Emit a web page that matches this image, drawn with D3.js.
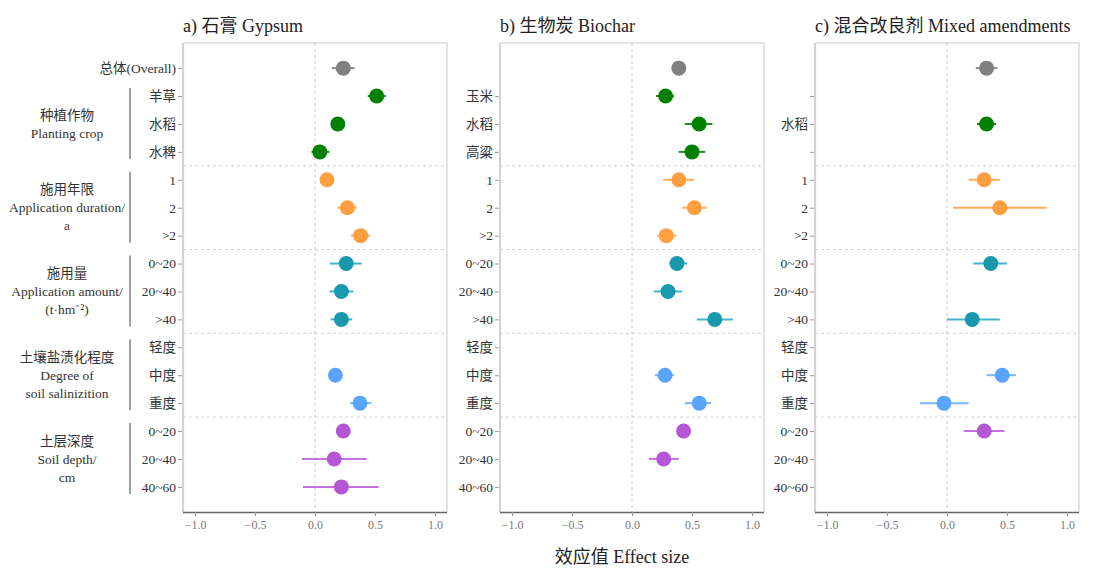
<!DOCTYPE html>
<html>
<head>
<meta charset="utf-8">
<script src="https://cdn.jsdelivr.net/npm/d3@7"></script>
<style>
  html, body { margin: 0; padding: 0; background: #fff; }
  svg { display: block; }
  text { font-family: "Liberation Serif", "Times New Roman", "Noto Sans CJK SC", serif; }
</style>
</head>
<body>
<svg id="chart" width="1096" height="568"></svg>
<script>
// Row order (top to bottom) shared by all three panels
const rowGroup = [0, 1, 1, 1, 2, 2, 2, 3, 3, 3, 4, 4, 4, 5, 5, 5];

// Y-axis tick labels per panel
const labelsA = ["总体(Overall)", "羊草", "水稻", "水稗", "1", "2", ">2", "0~20", "20~40", ">40", "轻度", "中度", "重度", "0~20", "20~40", "40~60"];
const labelsB = ["", "玉米", "水稻", "高粱", "1", "2", ">2", "0~20", "20~40", ">40", "轻度", "中度", "重度", "0~20", "20~40", "40~60"];
const labelsC = ["", "", "水稻", "", "1", "2", ">2", "0~20", "20~40", ">40", "轻度", "中度", "重度", "0~20", "20~40", "40~60"];

// Effect sizes with 95% CI (null = no data)
const meanA = [0.236, 0.514, 0.19, 0.04, 0.10, 0.27, 0.38, 0.26, 0.22, 0.22, null, 0.17, 0.375, 0.236, 0.16, 0.22];
const lowA  = [0.14, 0.44, 0.16, -0.03, 0.07, 0.19, 0.30, 0.125, 0.12, 0.13, null, 0.14, 0.29, 0.20, -0.11, -0.10];
const highA = [0.33, 0.59, 0.22, 0.12, 0.13, 0.35, 0.46, 0.39, 0.32, 0.31, null, 0.20, 0.47, 0.27, 0.43, 0.53];

const meanB = [0.39, 0.28, 0.56, 0.50, 0.39, 0.52, 0.286, 0.375, 0.30, 0.69, null, 0.275, 0.56, 0.43, 0.264, null];
const lowB  = [0.36, 0.20, 0.44, 0.39, 0.26, 0.42, 0.21, 0.31, 0.18, 0.54, null, 0.19, 0.44, 0.40, 0.14, null];
const highB = [0.42, 0.35, 0.67, 0.61, 0.52, 0.62, 0.37, 0.46, 0.42, 0.84, null, 0.35, 0.66, 0.46, 0.39, null];

const meanC = [0.33, null, 0.33, null, 0.31, 0.44, null, 0.365, null, 0.21, null, 0.46, -0.025, 0.31, null, null];
const lowC  = [0.24, null, 0.25, null, 0.18, 0.05, null, 0.22, null, 0.00, null, 0.33, -0.225, 0.14, null, null];
const highC = [0.42, null, 0.41, null, 0.44, 0.83, null, 0.50, null, 0.44, null, 0.575, 0.18, 0.48, null, null];

const xTicks = [-1.0, -0.5, 0.0, 0.5, 1.0];
const groupColors = ["#808080", "#008000", "#ff9f40", "#1a98ad", "#58a4ff", "#b655d6"];
const barColors   = ["#8a8a8a", "#1a8a1a", "#ffab5a", "#40b4cc", "#78b6ff", "#c373e0"];

const titles = ["a) 石膏 Gypsum", "b) 生物炭 Biochar", "c) 混合改良剂 Mixed amendments"];

// Group annotations on the left of panel a
const groupNotes = [
  { rows: [1, 3],   lines: ["种植作物", "Planting crop"] },
  { rows: [4, 6],   lines: ["施用年限", "Application duration/", "a"] },
  { rows: [7, 9],   lines: ["施用量", "Application amount/", "(t·hm⁻²)"] },
  { rows: [10, 12], lines: ["土壤盐渍化程度", "Degree of", "soil salinizition"] },
  { rows: [13, 15], lines: ["土层深度", "Soil depth/", "cm"] }
];

const panels = [
  { left: 183, labels: labelsA, mean: meanA, low: lowA, high: highA, tickRow0: true },
  { left: 500, labels: labelsB, mean: meanB, low: lowB, high: highB, tickRow0: false },
  { left: 815, labels: labelsC, mean: meanC, low: lowC, high: highC, tickRow0: false }
];

const svg = d3.select("#chart");
const plotTop = 43, plotBottom = 512, pw = 264;
const rows = d3.range(rowGroup.length);

const y = d3.scalePoint().domain(rows).range([plotTop, plotBottom]).padding(0.9);
const sepRows = [3, 6, 9, 12];

panels.forEach((p, pi) => {
  const x = d3.scaleLinear().domain([-1.1, 1.1]).range([p.left, p.left + pw]);
  const g = svg.append("g");

  // panel frame (top / right)
  g.append("path")
    .attr("d", `M${p.left},${plotTop}H${p.left + pw}V${plotBottom}`)
    .attr("fill", "none").attr("stroke", "#dcdcdc").attr("stroke-width", 1.5);

  // zero reference line
  g.append("line")
    .attr("x1", x(0)).attr("x2", x(0)).attr("y1", plotTop).attr("y2", plotBottom)
    .attr("stroke", "#c8c8c8").attr("stroke-width", 1).attr("stroke-dasharray", "3,3");

  // group separators
  g.selectAll("line.sep").data(sepRows).join("line")
    .attr("class", "sep")
    .attr("x1", p.left).attr("x2", p.left + pw)
    .attr("y1", d => (y(d) + y(d + 1)) / 2).attr("y2", d => (y(d) + y(d + 1)) / 2)
    .attr("stroke", "#cfcfcf").attr("stroke-width", 1).attr("stroke-dasharray", "3,3");

  // y axis
  const yAxis = d3.axisLeft(y)
    .tickValues(p.tickRow0 ? rows : rows.slice(1))
    .tickFormat(i => p.labels[i])
    .tickSize(5).tickPadding(2);
  const ya = g.append("g").attr("transform", `translate(${p.left},0)`).call(yAxis);
  ya.select(".domain").remove();
  ya.selectAll(".tick line").attr("stroke", "#9a9a9a");
  ya.selectAll(".tick text")
    .attr("fill", "#333").style("font-size", "13.5px")
    .style("font-family", "'Liberation Serif','Times New Roman','Noto Sans CJK SC',serif");
  g.append("line")
    .attr("x1", p.left).attr("x2", p.left).attr("y1", plotTop).attr("y2", plotBottom)
    .attr("stroke", "#d4d4d4").attr("stroke-width", 2.2);

  // x axis
  const xAxis = d3.axisBottom(x).tickValues(xTicks).tickFormat(d3.format(".1f")).tickSize(4).tickPadding(4);
  const xa = g.append("g").attr("transform", `translate(0,${plotBottom})`).call(xAxis);
  xa.select(".domain").attr("stroke", "#666").attr("stroke-width", 1.5)
    .attr("d", `M${p.left},0.5H${p.left + pw}`);
  xa.selectAll(".tick line").attr("stroke", "#999");
  xa.selectAll(".tick text")
    .attr("fill", "#777").style("font-size", "12px")
    .style("font-family", "'Liberation Serif','Times New Roman',serif");

  // error bars and points
  const pts = rows.filter(i => p.mean[i] !== null);
  g.selectAll("line.ci").data(pts).join("line")
    .attr("class", "ci")
    .attr("x1", i => x(p.low[i])).attr("x2", i => x(p.high[i]))
    .attr("y1", i => y(i)).attr("y2", i => y(i))
    .attr("stroke", i => barColors[rowGroup[i]]).attr("stroke-width", 2);
  g.selectAll("circle.pt").data(pts).join("circle")
    .attr("class", "pt")
    .attr("cx", i => x(p.mean[i])).attr("cy", i => y(i)).attr("r", 7.5)
    .attr("fill", i => groupColors[rowGroup[i]]);

  // panel title
  svg.append("text")
    .attr("x", p.left).attr("y", 32)
    .attr("fill", "#222").style("font-size", "18px")
    .text(titles[pi]);
});

// group notes with brackets (panel a)
const noteX = 67, barX = 130;
groupNotes.forEach(n => {
  const y0 = y(n.rows[0]) - 8, y1 = y(n.rows[1]) + 7;
  svg.append("line")
    .attr("x1", barX).attr("x2", barX).attr("y1", y0).attr("y2", y1)
    .attr("stroke", "#a0a0a0").attr("stroke-width", 2);
  const cy = (y(n.rows[0]) + y(n.rows[1])) / 2;
  const lh = 18;
  const startY = cy - (n.lines.length - 1) * lh / 2;
  const t = svg.append("text")
    .attr("text-anchor", "middle").attr("fill", "#333").style("font-size", "13.5px");
  n.lines.forEach((s, k) => {
    t.append("tspan").attr("x", noteX).attr("y", startY + k * lh).attr("dy", "0.35em").text(s);
  });
});

// shared x-axis title
svg.append("text")
  .attr("x", 622).attr("y", 563).attr("text-anchor", "middle")
  .attr("fill", "#222").style("font-size", "18px")
  .text("效应值 Effect size");
</script>
</body>
</html>
